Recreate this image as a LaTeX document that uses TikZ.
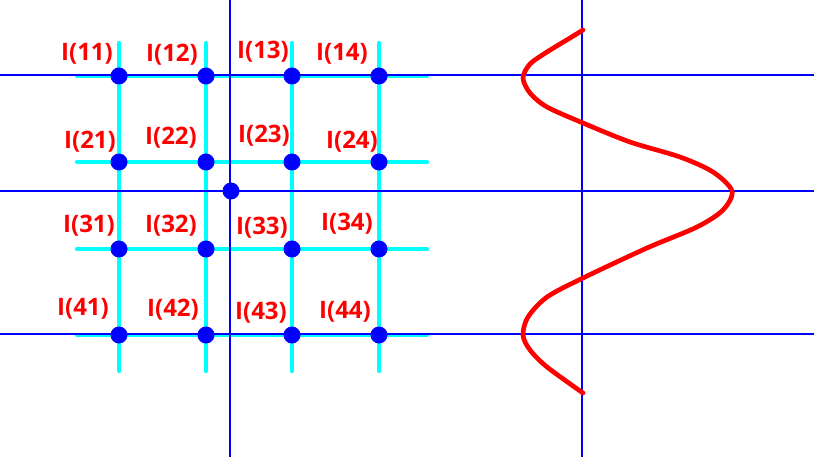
\documentclass[tikz,border=0pt]{standalone}
\usepackage{fontspec}
\setmainfont{Open Sans}
\usepackage{xcolor}
\usepackage{tikz}
\definecolor{gridcyan}{RGB}{0,255,255}
\definecolor{axisblue}{RGB}{0,0,255}
\definecolor{labelred}{RGB}{255,0,0}
\tikzset{
  gridline/.style={draw=gridcyan, line width=3.6pt, line cap=round},
  axisline/.style={draw=axisblue, line width=0.9pt},
  pixel/.style={circle, fill=axisblue, inner sep=0pt, minimum size=0.51cm},
  intensity/.style={text=labelred, font=\fontsize{20.5}{24}\selectfont\bfseries, inner sep=0pt},
  profile/.style={draw=labelred, line width=4pt, line cap=round, line join=round}
}

\begin{document}
\begin{tikzpicture}[x=0.03cm, y=-0.03cm]
\useasboundingbox (0,0) rectangle (814,457);
% grid line ends
\coordinate (v1t) at (119,43);  \coordinate (v1b) at (119,371);
\coordinate (v2t) at (206,43);  \coordinate (v2b) at (206,371);
\coordinate (v3t) at (292,43);  \coordinate (v3b) at (292,371);
\coordinate (v4t) at (379,43);  \coordinate (v4b) at (379,371);
\coordinate (h1l) at (77,76);   \coordinate (h1r) at (427,76);
\coordinate (h2l) at (77,162);  \coordinate (h2r) at (427,162);
\coordinate (h3l) at (77,249);  \coordinate (h3r) at (427,249);
\coordinate (h4l) at (77,335);  \coordinate (h4r) at (427,335);
\draw[gridline] (v1t) -- (v1b);
\draw[gridline] (v2t) -- (v2b);
\draw[gridline] (v3t) -- (v3b);
\draw[gridline] (v4t) -- (v4b);
\draw[gridline] (h1l) -- (h1r);
\draw[gridline] (h2l) -- (h2r);
\draw[gridline] (h3l) -- (h3r);
\draw[gridline] (h4l) -- (h4r);
% axes
\coordinate (ytop) at (230,0);    \coordinate (ybot) at (230,457);
\coordinate (ptop) at (582,0);    \coordinate (pbot) at (582,457);
\coordinate (rowa) at (0,75);     \coordinate (rowae) at (814,75);
\coordinate (rowb) at (0,191);    \coordinate (rowbe) at (814,191);
\coordinate (rowc) at (0,334);    \coordinate (rowce) at (814,334);
\draw[axisline] (ytop) -- (ybot);
\draw[axisline] (ptop) -- (pbot);
\draw[axisline] (rowa) -- (rowae);
\draw[axisline] (rowb) -- (rowbe);
\draw[axisline] (rowc) -- (rowce);
% pixels
\node[pixel] (p11) at (119,76) {};
\node[pixel] (p12) at (206,76) {};
\node[pixel] (p13) at (292,76) {};
\node[pixel] (p14) at (379,76) {};
\node[pixel] (p21) at (119,162) {};
\node[pixel] (p22) at (206,162) {};
\node[pixel] (p23) at (292,162) {};
\node[pixel] (p24) at (379,162) {};
\node[pixel] (p31) at (119,249) {};
\node[pixel] (p32) at (206,249) {};
\node[pixel] (p33) at (292,249) {};
\node[pixel] (p34) at (379,249) {};
\node[pixel] (p41) at (119,335) {};
\node[pixel] (p42) at (206,335) {};
\node[pixel] (p43) at (292,335) {};
\node[pixel] (p44) at (379,335) {};
\node[pixel] (centre) at (231,191) {};
% labels
\node[intensity] (i11) at (87,54) {I(11)};
\node[intensity] (i12) at (172,55) {I(12)};
\node[intensity] (i13) at (263,52) {I(13)};
\node[intensity] (i14) at (342,54) {I(14)};
\node[intensity] (i21) at (90,142) {I(21)};
\node[intensity] (i22) at (171,138) {I(22)};
\node[intensity] (i23) at (264,136) {I(23)};
\node[intensity] (i24) at (352,142) {I(24)};
\node[intensity] (i31) at (89,226) {I(31)};
\node[intensity] (i32) at (171,226) {I(32)};
\node[intensity] (i33) at (262,228) {I(33)};
\node[intensity] (i34) at (347,224) {I(34)};
\node[intensity] (i41) at (83,309) {I(41)};
\node[intensity] (i42) at (173,310) {I(42)};
\node[intensity] (i43) at (261,313) {I(43)};
\node[intensity] (i44) at (345,312) {I(44)};
% profile curve
\draw[profile] plot[smooth] coordinates {(583,30) (570,38) (547,52) (530,64) (523,78)
  (530,93) (547,107) (583,123) (630,142) (680,157) (713,172) (732,191) (723,210)
  (697,227) (647,248) (583,278) (547,297) (528,317) (523,335) (530,350) (547,367) (583,393)};
\end{tikzpicture}
\end{document}
